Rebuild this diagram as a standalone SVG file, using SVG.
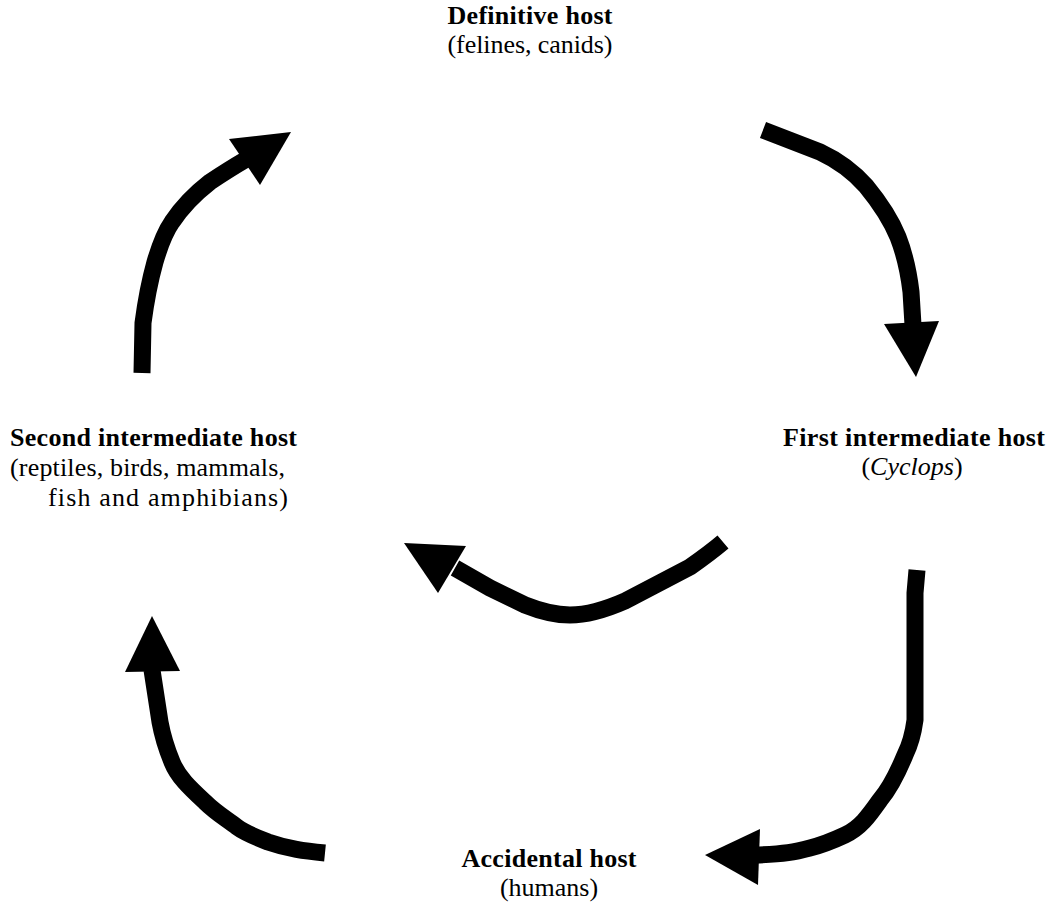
<svg xmlns="http://www.w3.org/2000/svg" width="1055" height="903" viewBox="0 0 1055 903">
<style>
.t{font-family:"Liberation Serif","Times New Roman",serif;font-size:26px;fill:#000}
.b{font-weight:bold}
.i{font-style:italic}
.arr{fill:none;stroke:#000;stroke-width:17;stroke-linejoin:round;stroke-linecap:butt}
.head{fill:#000;stroke:none}
</style>
<rect width="1055" height="903" fill="#fff"/>
<g id="definitive">
<text class="t b" x="530" y="24" text-anchor="middle" textLength="165" lengthAdjust="spacing">Definitive host</text>
<text class="t" x="530" y="53" text-anchor="middle" textLength="165" lengthAdjust="spacing">(felines, canids)</text>
</g>
<g id="second">
<text class="t b" x="10" y="446" textLength="287" lengthAdjust="spacing">Second intermediate host</text>
<text class="t" x="10" y="476" textLength="275" lengthAdjust="spacing">(reptiles, birds, mammals,</text>
<text class="t" x="48" y="506" textLength="240" lengthAdjust="spacing">fish and amphibians)</text>
</g>
<g id="first">
<text class="t b" x="1045" y="446" text-anchor="end" textLength="262" lengthAdjust="spacing">First intermediate host</text>
<text class="t" x="912" y="475" text-anchor="middle">(<tspan class="i">Cyclops</tspan>)</text>
</g>
<g id="accidental">
<text class="t b" x="549" y="867" text-anchor="middle" textLength="175" lengthAdjust="spacing">Accidental host</text>
<text class="t" x="549" y="896" text-anchor="middle">(humans)</text>
</g>
<g id="connectors">
<path class="arr" d="M142,373 L143,323 C146,300 150,280 155,262 C160,245 165,232 172,222 C180,210 192,196 210,182 C222,174 233,167 245,160"/>
<polygon class="head" points="229,139 291,132 260,185"/>
<path class="arr" d="M763,130 L820,152 C835,159 850,168 866,186 C880,203 891,220 898,237 C905,255 909,275 911,292 L913,325"/>
<polygon class="head" points="884,324 939,321 916,377"/>
<path class="arr" d="M723,542 C710,553 700,560 690,567 L625,601 C600,612 585,615 570,615 C555,615 540,611 525,605 L490,588 L455,568"/>
<polygon class="head" points="404,543 466,546 438,593"/>
<path class="arr" d="M917,570 L915,593 L915,720 C913,735 910,745 905,755 C898,772 891,787 880,800 C868,817 860,828 845,835 C830,842 822,845 810,848 C795,852 785,854 755,855"/>
<polygon class="head" points="705,855 760,829 758,885"/>
<path class="arr" d="M325,853 C305,851 288,849 268,842 C255,837 245,833 237,827 C225,818 215,812 205,802 C190,788 178,777 172,762 C165,745 162,733 160,722 L152,670"/>
<polygon class="head" points="152,616 125,672 180,671"/>
</g>
</svg>
